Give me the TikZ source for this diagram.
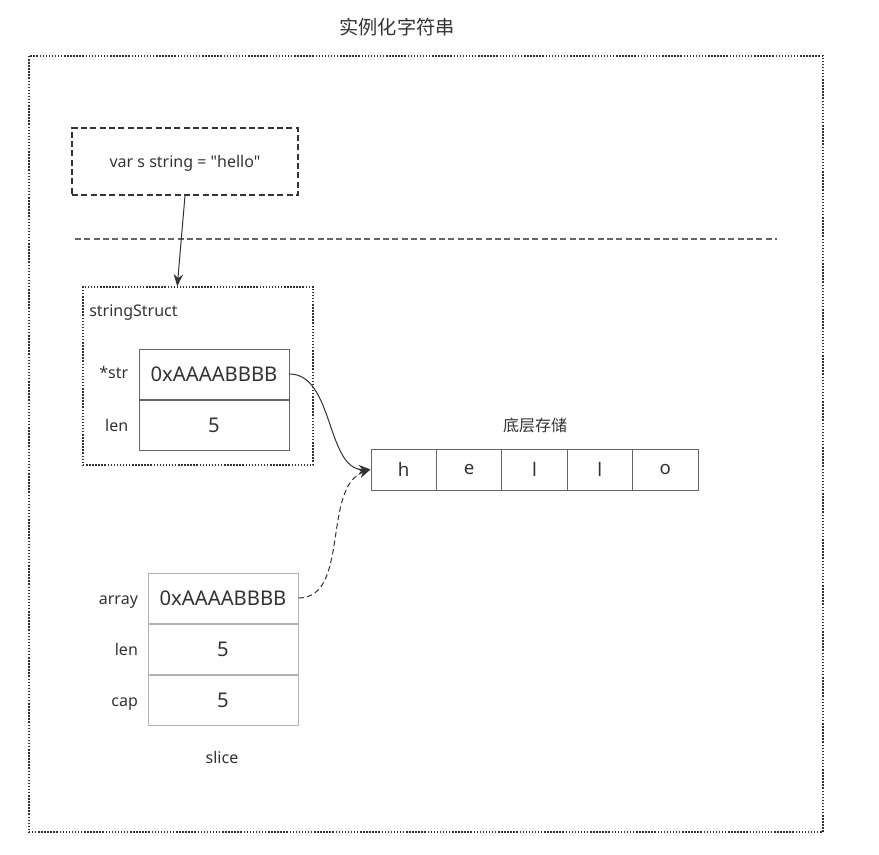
\documentclass[tikz,border=0pt]{standalone}
\usepackage{fontspec}
\setmainfont{Noto Sans}
\newfontfamily\plainsans{Noto Sans}
\newfontfamily\cjk{Noto Sans CJK SC}
\usetikzlibrary{arrows.meta, positioning, calc}
\definecolor{darktext}{HTML}{333333}
\definecolor{cellline}{HTML}{666666}
\definecolor{softline}{HTML}{B3B3B3}

\begin{document}
\begin{tikzpicture}[
    x=0.75pt, y=-0.75pt,
    cell/.style={rectangle, draw=#1, line width=0.75pt, inner sep=0pt,
                 minimum width=112.5pt, minimum height=37.5pt,
                 font=\fontsize{15.2}{17}\selectfont, text=darktext},
    charcell/.style={rectangle, draw=cellline, line width=0.75pt, inner sep=0pt,
                 minimum width=49.05pt, minimum height=30.75pt,
                 font=\fontsize{14}{16}\selectfont, text=darktext},
    lbl/.style={font=\fontsize{12}{14}\selectfont, text=darktext, inner sep=0pt,
                text height=0.95em, text depth=0.02em},
    arrow/.style={-{Stealth[length=9pt, width=7pt]}, line width=0.75pt, color=darktext}
]
\useasboundingbox (0,0) rectangle (879,854);

% Frame
\node[font=\cjk\fontsize{14.4}{16}\selectfont, text=darktext] (title) at (397,27) {实例化字符串};
\draw[darktext, line width=1.1pt, dash pattern=on 1.1pt off 1.2pt] (29,56) rectangle (823,832);

% Declaration
\node[rectangle, draw=darktext, line width=0.9pt, dash pattern=on 4.5pt off 2.5pt,
      minimum width=169.5pt, minimum height=50.25pt, lbl, font=\plainsans\fontsize{12}{14}\selectfont]
      (decl) at (185,161.5) {var s string = "hello"};
\draw[cellline, line width=0.9pt, dash pattern=on 4.5pt off 2.5pt] (75,239) -- (777,239);

% stringStruct
\node[rectangle, draw=darktext, line width=1.1pt, dash pattern=on 1.1pt off 1.2pt,
      minimum width=172.5pt, minimum height=133.5pt] (ss) at (198,376) {};
\node[lbl, anchor=west] (sstitle) at (89,310) {stringStruct};
\node[cell=cellline] (str) at (214,374) {0xAAAABBBB};
\node[cell=cellline, below=0pt of str] (len) {5};
\node[lbl, left=7.5pt of str, yshift=1.5pt] {*str};
\node[lbl, left=7.5pt of len] {len};

% Underlying bytes
\foreach \ch [count=\i from 0] in {h,e,l,l,o}
    \node[charcell] (b\i) at (403.7+65.4*\i,469.5) {\ch};
\node[lbl, font=\cjk\fontsize{12}{14}\selectfont] (store) at (535,425) {底层存储};

% slice
\node[cell=softline] (array) at (223,598) {0xAAAABBBB};
\node[cell=softline, below=0pt of array] (slen) {5};
\node[cell=softline, below=0pt of slen] (scap) {5};
\node[lbl, left=7pt of array] {array};
\node[lbl, left=7pt of slen] {len};
\node[lbl, left=7pt of scap] {cap};
\node[lbl] (slicename) at (222,757) {slice};

% Arrows
\draw[arrow] (decl.south) -- ($(ss.north west)+(95,0)$);
\draw[arrow] (str.east) to[out=0, in=180, looseness=0.9] (b0.west);
\draw[arrow, dash pattern=on 4pt off 2.5pt] (array.east) to[out=0, in=200, looseness=0.9] (b0.west);

\end{tikzpicture}
\end{document}
